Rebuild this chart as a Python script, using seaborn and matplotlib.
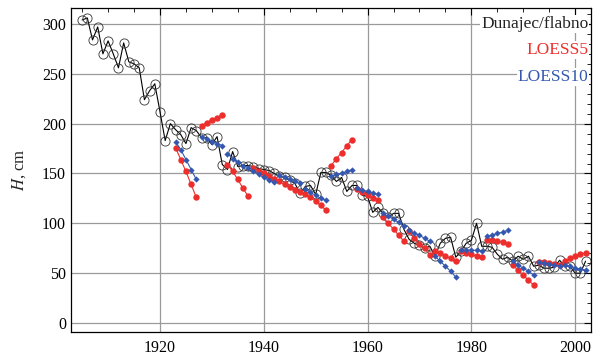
import numpy as np
import pandas as pd
import matplotlib
matplotlib.use("Agg")
import matplotlib.pyplot as plt
import seaborn as sns
from matplotlib.ticker import MultipleLocator

# observed annual values, Dunajec / flabno, 1905-2002
years = list(range(1905, 2003))
h_obs = [304, 306, 284, 297, 270, 283, 270, 256, 281, 262,
         260, 256, 224, 233, 240, 212, 183, 200, 194, 189,
         180, 196, 193, 186, 186, 179, 187, 159, 154, 172,
         157, 158, 158, 157, 155, 154, 153, 150, 147, 146,
         143, 140, 130, 137, 138, 129, 151, 151, 148, 142,
         146, 132, 138, 138, 128, 127, 111, 116, 110, 106,
         110, 110, 94, 84, 80, 78, 75, 77, 67, 80,
         85, 86, 66, 72, 80, 83, 100, 77, 77, 76,
         69, 64, 66, 62, 67, 64, 67, 57, 58, 55,
         55, 56, 63, 57, 57, 50, 50, 62]

# piecewise local fits, 5-year blocks from 1923 to 2002
fit_years = list(range(1923, 2003))
loess5 = [176, 164, 152, 139, 126,
          198, 201, 204, 206, 209,
          159, 152, 144, 135, 127,
          156, 153, 150, 147, 144,
          142, 139, 136, 133, 131,
          129, 126, 122, 118, 113,
          158, 165, 171, 178, 184,
          134, 131, 128, 125, 123,
          106, 100, 94, 88, 82,
          92, 85, 79, 75, 68,
          72, 70, 67, 65, 62,
          72, 70, 69, 67, 66,
          83, 83, 82, 81, 79,
          58, 53, 48, 43, 38,
          61, 61, 60, 59, 58,
          62, 65, 67, 69, 70]
loess10 = [182, 174, 164, 154, 144,
           187, 185, 182, 180, 178,
           170, 165, 162, 158, 156,
           152, 149, 146, 143, 141,
           148, 146, 144, 142, 140,
           134, 131, 128, 125, 123,
           147, 149, 150, 152, 154,
           135, 133, 132, 130, 129,
           110, 107, 104, 101, 97,
           93, 90, 88, 85, 82,
           67, 62, 57, 52, 46,
           73, 73, 73, 73, 72,
           87, 88, 90, 91, 93,
           62, 58, 55, 52, 48,
           61, 60, 59, 58, 57,
           58, 57, 55, 54, 53]

RED = "#ec2e2c"
BLUE = "#3458b0"

sns.set_style("white")
plt.rcParams["font.family"] = ["Liberation Serif", "DejaVu Serif"]
plt.rcParams["mathtext.fontset"] = "stix"

obs = pd.DataFrame({"year": years, "H": h_obs})
fits = pd.DataFrame({"year": fit_years, "l5": loess5, "l10": loess10})
fits["block"] = (fits["year"] - 1923) // 5

fig = plt.figure(figsize=(5.93, 3.57), dpi=100)
ax = fig.add_axes([0.1197, 0.070, 0.8769, 0.9076])

ax.grid(True, which="major", color="#9a9a9a", linewidth=0.9)
ax.set_axisbelow(True)

sns.lineplot(data=obs, x="year", y="H", ax=ax, color="black", linewidth=0.8,
             marker="o", markersize=6.6, markerfacecolor="none",
             markeredgecolor="#333333", markeredgewidth=0.6, zorder=3)
sns.lineplot(data=fits, x="year", y="l5", units="block", estimator=None, ax=ax,
             color=RED, linewidth=0.8, marker="o", markersize=4.6,
             markeredgewidth=0, zorder=4)
sns.lineplot(data=fits, x="year", y="l10", units="block", estimator=None, ax=ax,
             color=BLUE, linewidth=0.8, marker="D", markersize=3.2,
             markeredgewidth=0, zorder=5)

ax.set_xlim(1902.85, 2003.05)
ax.set_ylim(-9, 316)
ax.xaxis.set_major_locator(MultipleLocator(20))
ax.xaxis.set_minor_locator(MultipleLocator(5))
ax.yaxis.set_major_locator(MultipleLocator(50))
ax.yaxis.set_minor_locator(MultipleLocator(10))
ax.tick_params(which="both", direction="in", top=True, right=True,
               colors="black", labelsize=11.5)
ax.tick_params(which="major", length=5, width=0.8)
ax.tick_params(which="minor", length=3, width=0.6)
ax.tick_params(axis="x", pad=6)
for s in ax.spines.values():
    s.set_color("black")
    s.set_linewidth(0.9)
    s.set_zorder(7)

ax.set_xlabel("")
ax.set_ylabel(r"$H$, cm", fontsize=12, labelpad=10)

box = dict(facecolor="white", edgecolor="none", pad=0.8)
ax.text(0.995, 0.951, "Dunajec/flabno", transform=ax.transAxes, ha="right",
        va="center", fontsize=12.5, color="#222222", bbox=box, zorder=6)
ax.text(0.995, 0.870, "LOESS5", transform=ax.transAxes, ha="right",
        va="center", fontsize=12.5, color=RED, bbox=box, zorder=6)
ax.text(0.995, 0.787, "LOESS10", transform=ax.transAxes, ha="right",
        va="center", fontsize=12.5, color=BLUE, bbox=box, zorder=6)

fig.savefig("out.png", dpi=100)
